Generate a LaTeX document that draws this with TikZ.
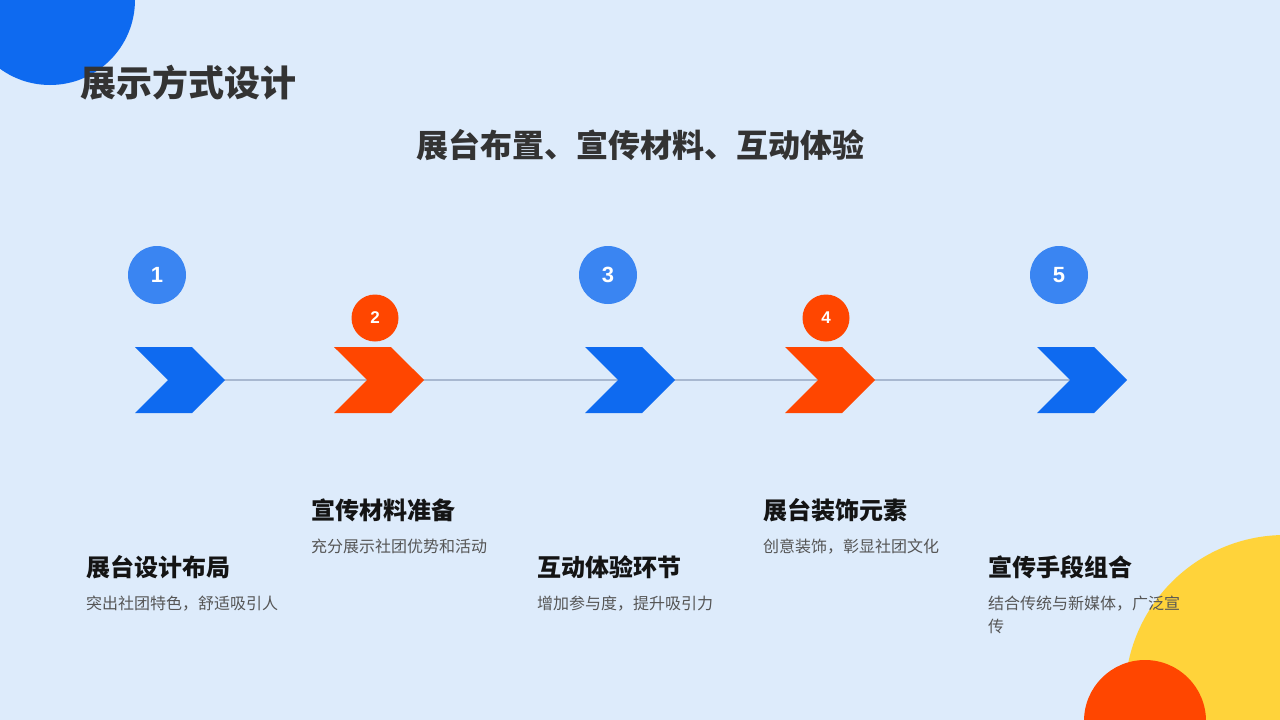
\documentclass[tikz,border=0pt]{standalone}
\usepackage{fontspec}
\usepackage{tikz}
\usetikzlibrary{positioning,shapes.symbols}
\newfontfamily\cjk{Noto Sans CJK SC}
\newfontfamily\digits{Liberation Sans}
\definecolor{pagebg}{RGB}{221,235,251}
\definecolor{deepblue}{RGB}{14,106,240}
\definecolor{softblue}{RGB}{58,133,242}
\definecolor{flame}{RGB}{255,70,0}
\definecolor{sun}{RGB}{255,211,58}
\definecolor{trackgray}{RGB}{168,184,208}
\definecolor{ink}{RGB}{51,51,51}
\definecolor{headink}{RGB}{20,20,20}
\definecolor{descink}{RGB}{85,85,85}
\pgfdeclarelayer{bg}
\pgfdeclarelayer{track}
\pgfsetlayers{bg,track,main}

\begin{document}
\begin{tikzpicture}[
  x=1pt, y=-1pt,
  chev/.style={signal, signal to=east, signal from=west, minimum width=90pt, minimum height=66pt, inner sep=0pt},
  bignum/.style={circle, fill=softblue, minimum size=58pt, inner sep=0pt, text=white, font=\digits\bfseries\fontsize{22}{22}\selectfont},
  smallnum/.style={circle, fill=flame, minimum size=47pt, inner sep=0pt, text=white, font=\digits\bfseries\fontsize{17}{17}\selectfont},
  head/.style={anchor=west, inner sep=0pt, text=headink, font=\cjk\bfseries\fontsize{24}{28}\selectfont},
  desc/.style={inner sep=0pt, align=left, text=descink, font=\cjk\fontsize{16}{23}\selectfont},
  track/.style={draw=trackgray, line width=2pt}
]
\useasboundingbox (0,0) rectangle (1280,720);
\begin{pgfonlayer}{bg}
  \clip (0,0) rectangle (1280,720);
  \fill[pagebg] (0,0) rectangle (1280,720);
  \fill[deepblue] (50,0) circle[radius=85];
  \fill[sun] (1285,695) circle[radius=160];
  \fill[flame] (1145,721) circle[radius=61];
\end{pgfonlayer}

\node[anchor=west, inner sep=0pt, text=ink, font=\cjk\bfseries\fontsize{36}{40}\selectfont] (title) at (80,83) {展示方式设计};
\node[inner sep=0pt, text=ink, font=\cjk\bfseries\fontsize{32}{36}\selectfont] (subtitle) at (640,145) {展台布置、宣传材料、互动体验};

\node[chev, fill=deepblue] (chev1) at (180,380) {};
\node[chev, fill=flame] (chev2) at (379,380) {};
\node[chev, fill=deepblue] (chev3) at (630,380) {};
\node[chev, fill=flame] (chev4) at (830,380) {};
\node[chev, fill=deepblue] (chev5) at (1082,380) {};
\begin{pgfonlayer}{track}
  \draw[track] (chev1.center) -- (chev5.center);
\end{pgfonlayer}

\node[bignum] (num1) at (157,275) {1};
\node[smallnum] (num2) at (375,318) {2};
\node[bignum] (num3) at (608,275) {3};
\node[smallnum] (num4) at (826,318) {4};
\node[bignum] (num5) at (1059,275) {5};

\node[head] (head1) at (86,567) {展台设计布局};
\node[head] (head2) at (311,510) {宣传材料准备};
\node[head] (head3) at (537,567) {互动体验环节};
\node[head] (head4) at (763,510) {展台装饰元素};
\node[head] (head5) at (988,567) {宣传手段组合};
\node[desc, below=17pt of head1.south west, anchor=north west] (desc1) {突出社团特色，舒适吸引人};
\node[desc, below=17pt of head2.south west, anchor=north west] (desc2) {充分展示社团优势和活动};
\node[desc, below=17pt of head3.south west, anchor=north west] (desc3) {增加参与度，提升吸引力};
\node[desc, below=17pt of head4.south west, anchor=north west] (desc4) {创意装饰，彰显社团文化};
\node[desc, below=17pt of head5.south west, anchor=north west] (desc5) {结合传统与新媒体，广泛宣\\传};
\end{tikzpicture}
\end{document}
